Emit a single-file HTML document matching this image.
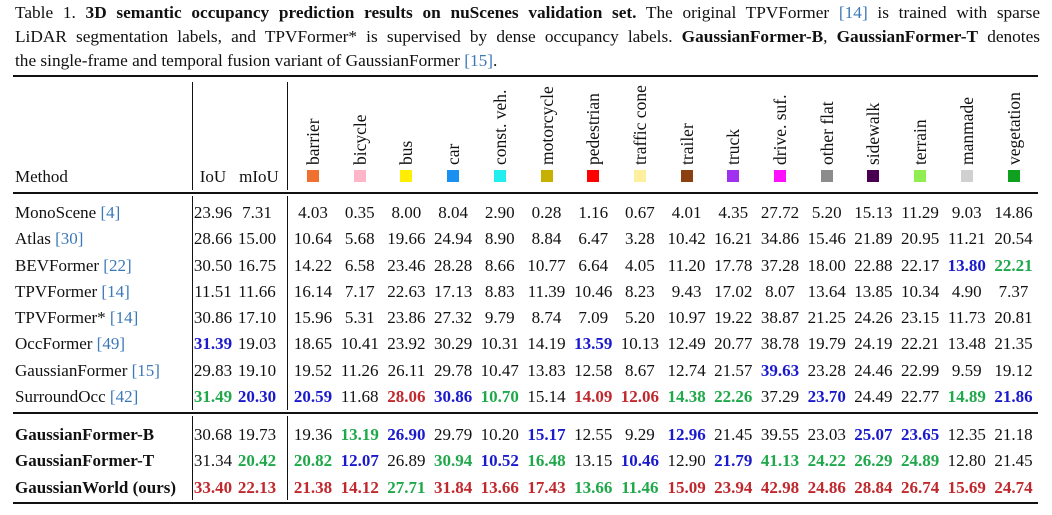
<!DOCTYPE html>
<html><head><meta charset="utf-8">
<style>
body{margin:0;width:1052px;height:515px;background:#fff;overflow:hidden;font-family:"Liberation Serif",serif;color:#111;position:relative}
.cap{position:absolute;left:15px;width:1025px;font-size:17.3px;line-height:24px;text-align:justify;text-align-last:justify;white-space:nowrap}
.cap.last{text-align-last:left}
.ref{color:#3b78b8}
.rule{position:absolute;left:13px;width:1025px;background:#111}
.vl{position:absolute;width:1.2px;background:#111}
.t{position:absolute;font-size:17px;white-space:nowrap;line-height:18px}
.num{transform:translateX(-50%)}
.r{color:#c0282d;font-weight:bold}.g{color:#1fa84a;font-weight:bold}.b{color:#1a1acc;font-weight:bold}
.hdr{position:absolute;font-size:17.5px;line-height:18px;white-space:nowrap;transform-origin:0 0;transform:rotate(-90deg)}
.sq{position:absolute;width:12px;height:12px}
</style></head><body>
<div class="cap" style="top:1px">Table 1. <b>3D semantic occupancy prediction results on nuScenes validation set.</b> The original TPVFormer <span class="ref">[14]</span> is trained with sparse</div>
<div class="cap" style="top:25px">LiDAR segmentation labels, and TPVFormer* is supervised by dense occupancy labels. <b>GaussianFormer-B</b>, <b>GaussianFormer-T</b> denotes</div>
<div class="cap last" style="top:49px">the single-frame and temporal fusion variant of GaussianFormer <span class="ref">[15]</span>.</div>

<div class="rule" style="top:75px;height:2px"></div>
<div class="rule" style="top:192px;height:1.5px"></div>
<div class="rule" style="top:412px;height:1.5px"></div>
<div class="rule" style="top:502px;height:2px"></div>
<div class="vl" style="left:192px;top:82px;height:108px"></div>
<div class="vl" style="left:287px;top:82px;height:108px"></div>
<div class="vl" style="left:192px;top:196px;height:214px"></div>
<div class="vl" style="left:287px;top:196px;height:214px"></div>
<div class="vl" style="left:192px;top:416px;height:84px"></div>
<div class="vl" style="left:287px;top:416px;height:84px"></div>

<div class="t" style="left:15px;top:168px">Method</div>
<div class="t num" style="left:213px;top:168px">IoU</div>
<div class="t num" style="left:259px;top:168px">mIoU</div>
<div id="tbl"></div>
<script>
const classes=["barrier","bicycle","bus","car","const. veh.","motorcycle","pedestrian","traffic cone","trailer","truck","drive. suf.","other flat","sidewalk","terrain","manmade","vegetation"];
const classColors=["#f07030","#ffb6c8","#ffee00","#1a90f0","#22eef0","#c8b000","#ff0000","#fff0a0","#8a4010","#a030f0","#ff10ff","#8c8c8c","#4a0050","#90ee50","#d0d0d0","#10a020"];
const methods=["MonoScene [4]","Atlas [30]","BEVFormer [22]","TPVFormer [14]","TPVFormer* [14]","OccFormer [49]","GaussianFormer [15]","SurroundOcc [42]","GaussianFormer-B","GaussianFormer-T","GaussianWorld (ours)"];
const values=[
"23.96 7.31 4.03 0.35 8.00 8.04 2.90 0.28 1.16 0.67 4.01 4.35 27.72 5.20 15.13 11.29 9.03 14.86",
"28.66 15.00 10.64 5.68 19.66 24.94 8.90 8.84 6.47 3.28 10.42 16.21 34.86 15.46 21.89 20.95 11.21 20.54",
"30.50 16.75 14.22 6.58 23.46 28.28 8.66 10.77 6.64 4.05 11.20 17.78 37.28 18.00 22.88 22.17 13.80b 22.21g",
"11.51 11.66 16.14 7.17 22.63 17.13 8.83 11.39 10.46 8.23 9.43 17.02 8.07 13.64 13.85 10.34 4.90 7.37",
"30.86 17.10 15.96 5.31 23.86 27.32 9.79 8.74 7.09 5.20 10.97 19.22 38.87 21.25 24.26 23.15 11.73 20.81",
"31.39b 19.03 18.65 10.41 23.92 30.29 10.31 14.19 13.59b 10.13 12.49 20.77 38.78 19.79 24.19 22.21 13.48 21.35",
"29.83 19.10 19.52 11.26 26.11 29.78 10.47 13.83 12.58 8.67 12.74 21.57 39.63b 23.28 24.46 22.99 9.59 19.12",
"31.49g 20.30b 20.59b 11.68 28.06r 30.86b 10.70g 15.14 14.09r 12.06r 14.38g 22.26g 37.29 23.70b 24.49 22.77 14.89g 21.86b",
"30.68 19.73 19.36 13.19g 26.90b 29.79 10.20 15.17b 12.55 9.29 12.96b 21.45 39.55 23.03 25.07b 23.65b 12.35 21.18",
"31.34 20.42g 20.82g 12.07b 26.89 30.94g 10.52b 16.48g 13.15 10.46b 12.90 21.79b 41.13g 24.22g 26.29g 24.89g 12.80 21.45",
"33.40r 22.13r 21.38r 14.12r 27.71g 31.84r 13.66r 17.43r 13.66g 11.46g 15.09r 23.94r 42.98r 24.86r 28.84r 26.74r 15.69r 24.74r"];
const root=document.getElementById('tbl');
const colX=i=>313+i*46.7;
const valX=j=>j===0?213:(j===1?257:colX(j-2));
const rowY=i=>i<8?204+i*26.25:426+(i-8)*26.4;
classes.forEach((c,i)=>{
  const h=document.createElement('div');h.className='hdr';h.textContent=c;
  h.style.left=(colX(i)-9)+'px';h.style.top='165px';
  
  
  root.appendChild(h);
  const s=document.createElement('div');s.className='sq';s.style.background=classColors[i];
  s.style.left=(colX(i)-6)+'px';s.style.top='170px';
  
  
  root.appendChild(s);
});
methods.forEach((m,i)=>{
  const d=document.createElement('div');d.className='t';d.style.left='15px';d.style.top=rowY(i)+'px';
  const mm=m.match(/^(.*?)( \[\d+\])?$/);
  d.innerHTML=mm[1]+(mm[2]?' <span class="ref">'+mm[2].trim()+'</span>':'');
  if(i>=8)d.style.fontWeight='bold';
  
  
  root.appendChild(d);
  values[i].split(' ').forEach((v,j)=>{
    const e=document.createElement('div');
    const cls=/[rgb]$/.test(v)?v.slice(-1):'';
    e.className='t num '+cls;e.textContent=cls?v.slice(0,-1):v;
    e.style.left=valX(j)+'px';e.style.top=rowY(i)+'px';
    
    
    root.appendChild(e);
  });
});
</script>
</body></html>
